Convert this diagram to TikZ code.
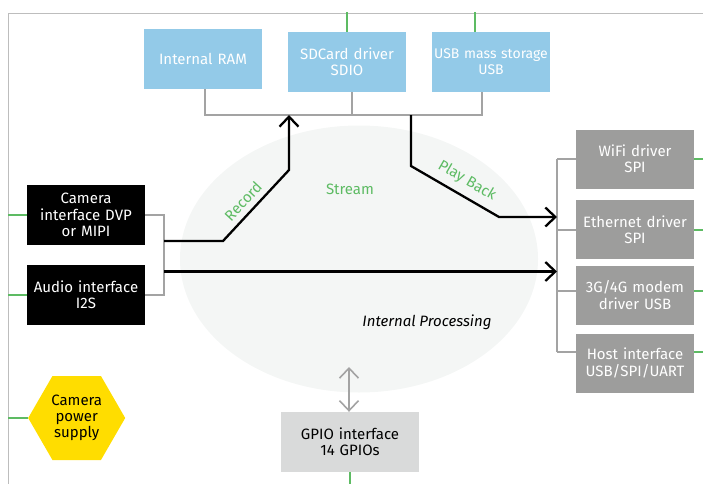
\documentclass[tikz,border=0pt]{standalone}
\usepackage{fontspec}
\setmainfont{Fira Sans}
\usetikzlibrary{arrows.meta,shapes.geometric}

\definecolor{memblue}{HTML}{93CAE8}
\definecolor{drvgray}{HTML}{9D9D9C}
\definecolor{iogray}{HTML}{D9DADA}
\definecolor{pwryellow}{HTML}{FFDD00}
\definecolor{coregray}{HTML}{F4F6F5}
\definecolor{pingreen}{HTML}{5DBB63}
\definecolor{busgray}{HTML}{A3A3A3}
\definecolor{framegray}{HTML}{BDBDBD}

\begin{document}
\begin{tikzpicture}[x=1pt,y=-1pt,>={Straight Barb[length=10pt,width=19pt]},
  font=\fontsize{15pt}{16.3pt}\selectfont,
  box/.style={minimum width=118pt,minimum height=60pt,text width=118pt,inner sep=0pt,align=center},
  mem/.style={box,fill=memblue,text=white},
  cam/.style={box,fill=black,text=white},
  drv/.style={box,fill=drvgray,text=white,minimum height=59pt},
  bus/.style={busgray,line width=2pt},
  pin/.style={pingreen,line width=2pt},
  flow/.style={black,line width=2.3pt},
  lbl/.style={text=pingreen}]
\useasboundingbox (0,0) rectangle (703,484);

\node[ellipse,fill=coregray,minimum width=358pt,minimum height=267pt,inner sep=0pt] (core) at (359,259) {};

\coordinate (nw) at (8,14);
\coordinate (topedge) at (0,12);
\coordinate (rightedge) at (703,0);
\coordinate (bottomedge) at (0,484);
\coordinate (lb) at (164,0);
\coordinate (rb) at (557,0);
\coordinate (tb) at (0,115);
\draw[framegray,line width=1pt] (703,14) -| (8,484);

\node[mem] (ram)    at (203,59) {Internal RAM};
\node[mem] (sdcard) at (347,62) {SDCard driver\\SDIO};
\node[mem,font=\fontsize{14pt}{16.3pt}\selectfont] (usbms) at (491,62) {USB mass storage\\USB};
\node[cam] (camera) at (86,215) {Camera\\interface DVP\\or MIPI};
\node[cam] (audio)  at (86,295) {Audio interface\\I2S};
\node[drv] (wifi)   at (635,159) {WiFi driver\\SPI};
\node[drv] (eth)    at (635,229.5) {Ethernet driver\\SPI};
\node[drv] (modem)  at (635,295) {3G/4G modem\\driver USB};
\node[drv] (host)   at (635,363) {Host interface\\USB/SPI/UART};
\node[box,fill=iogray,minimum width=138pt] (gpio) at (350,442) {GPIO interface\\14 GPIOs};
\node[regular polygon,regular polygon sides=6,minimum size=97pt,inner sep=0pt,
  fill=pwryellow,align=center] (power) at (76.7,418) {Camera\\power\\supply};

% green pins leaving the board
\draw[pin] (sdcard.north) -- (sdcard.north |- topedge);
\coordinate (usbpin) at ([xshift=-16pt]usbms.north);
\draw[pin] (usbpin) -- (usbpin |- topedge);
\foreach \n in {camera,audio,power}
  \draw[pin] (\n.west) -- (\n.west -| nw);
\draw[pin] (gpio.south) -- (gpio.south |- bottomedge);

% storage bus
\coordinate (ramtap) at ([xshift=2pt]ram.south);
\coordinate (sdtap) at ([xshift=5pt]sdcard.south);
\coordinate (usbtap) at ([xshift=-9pt]usbms.south);
\draw[bus] (ramtap) -- (ramtap |- tb) -- (usbtap |- tb) -- (usbtap);
\draw[bus] (sdtap) -- (sdtap |- tb);

% input bracket
\draw[bus] (camera.east) -- (camera.east -| lb) -- (audio.east -| lb) -- (audio.east);

% output bracket
\foreach \n/\s in {wifi/0,eth/0,modem/4,host/11}{
  \draw[bus] ([yshift=\s pt]\n.west) -- ++(-19pt,0);
  \draw[pin] ([yshift=\s pt]\n.east) -- ++(12pt,0);
}
\coordinate (hosttap) at ([yshift=11pt]host.west);
\draw[bus] (wifi.west -| rb) -- (hosttap -| rb);

% data paths
\coordinate (rec1) at (223,241);
\coordinate (rec2) at (289,170);
\draw[flow,->] (lb |- rec1) -- (rec1) -- (rec2) -- (rec2 |- tb);
\coordinate (pb1) at (411,166);
\coordinate (pb2) at (499,217);
\draw[flow,->] (pb1 |- tb) -- (pb1) -- (pb2) -- (pb2 -| rb);
\coordinate (strm) at (0,271.5);
\draw[flow,->] (strm -| lb) -- (strm -| rb);

\coordinate (gpioin) at (349,367);
\draw[bus,line width=1.6pt,<->] (gpioin) -- (gpioin |- gpio.north);

\node[lbl,rotate=47]  (recordlbl) at (243,201.5) {Record};
\node[lbl]            (streamlbl) at (350,189) {Stream};
\node[lbl,rotate=-30] (playlbl)   at (467,181) {Play Back};
\node[font=\fontsize{15pt}{16.3pt}\selectfont\itshape] (corelbl) at (427,322) {Internal Processing};
\end{tikzpicture}
\end{document}
